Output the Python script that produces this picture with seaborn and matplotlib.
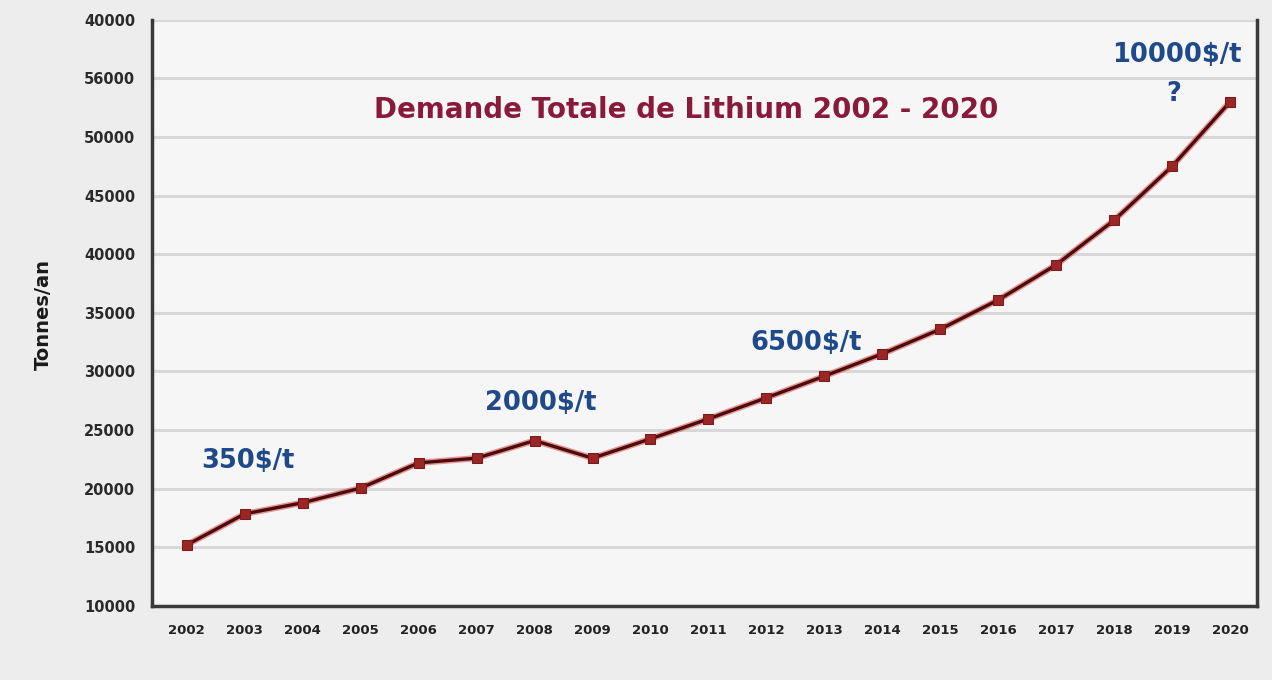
import numpy as np
import pandas as pd
import matplotlib
matplotlib.use('Agg')
import matplotlib.pyplot as plt
import seaborn as sns

# values
years = [2002, 2003, 2004, 2005, 2006, 2007, 2008, 2009, 2010, 2011,
         2012, 2013, 2014, 2015, 2016, 2017, 2018, 2019, 2020]
demand = [15200, 17850, 18800, 20050, 22200, 22600, 24100, 22600, 24250, 25950,
          27750, 29600, 31500, 33600, 36100, 39100, 42900, 47500, 53000]

ytick_values = [10000, 15000, 20000, 25000, 30000, 35000, 40000, 45000, 50000, 55000, 60000]
ytick_labels = ['10000', '15000', '20000', '25000', '30000', '35000', '40000',
                '45000', '50000', '56000', '40000']

price_labels = ['350$/t', '2000$/t', '6500$/t', '10000$/t', '?']
price_years = [2003.05, 2008.10, 2012.68, 2019.08, 2019.02]
price_values = [22400, 27300, 32450, 57000, 53650]

title = 'Demande Totale de Lithium 2002 - 2020'


def run():
    sns.set_theme(style='white')
    plt.rcParams['font.family'] = ['DejaVu Sans']

    df = pd.DataFrame({'year': years, 'demand': demand})

    fig = plt.figure(figsize=(12.72, 6.8), dpi=100, facecolor='#ededed')
    ax = fig.add_axes([0.1195, 0.109, 0.869, 0.862])
    ax.set_facecolor('#f6f6f6')

    # grid lines drawn behind the curve
    for v in ytick_values[1:]:
        ax.axhline(v, color='#d8d8d8', lw=2.2, zorder=0)

    # red halo under the dark line
    sns.lineplot(data=df, x='year', y='demand', ax=ax, color='#e04040',
                 lw=4.5, alpha=0.55, zorder=2)
    sns.lineplot(data=df, x='year', y='demand', ax=ax, color='#4a0c0c',
                 lw=2.4, marker='s', markersize=7, markerfacecolor='#9a2626',
                 markeredgecolor='#7a1a1a', zorder=3)

    ax.set_xlim(2001.4, 2020.47)
    ax.set_ylim(10000, 60000)
    ax.set_xticks(years)
    ax.set_xticklabels([str(y) for y in years], fontsize=9.5, fontweight='bold',
                       color='#222222')
    ax.set_yticks(ytick_values)
    ax.set_yticklabels(ytick_labels, fontsize=10.5, fontweight='bold', color='#2a2a2a')
    ax.tick_params(axis='x', length=0, pad=13)
    ax.tick_params(axis='y', length=0, pad=12)

    ax.set_xlabel('')
    ax.set_ylabel('Tonnes/an', fontsize=14, fontweight='bold', color='#1a1a1a')
    ax.yaxis.set_label_coords(-0.0896, 0.497)

    for side in ['left', 'bottom', 'right']:
        ax.spines[side].set_visible(True)
        ax.spines[side].set_color('#3a3a3a')
        ax.spines[side].set_linewidth(2.5)
    ax.spines['top'].set_visible(False)

    ax.text(0.483, 0.846, title, transform=ax.transAxes, ha='center', va='center',
            fontsize=20, fontweight='bold', color='#8a1a3c')

    for lab, x, y in zip(price_labels, price_years, price_values):
        ax.text(x, y, lab, ha='center', va='center', fontsize=18.5, fontweight='bold',
                color='#1f4a8a', zorder=4)

    plt.savefig('out.png', dpi=100, facecolor=fig.get_facecolor())
    plt.close()


if __name__ == '__main__':
    run()
